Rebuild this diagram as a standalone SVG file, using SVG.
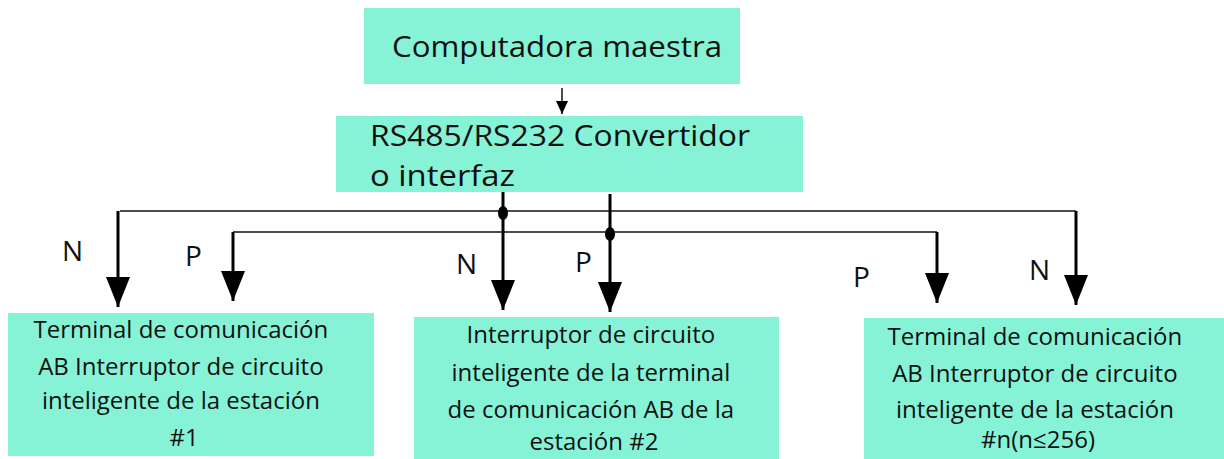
<svg xmlns="http://www.w3.org/2000/svg" width="1224" height="459" viewBox="0 0 1224 459">
<style>
.box{fill:#86f3d6;stroke:none}
.t{font-family:"Open Sans","Noto Sans",sans-serif;fill:#111}
.big{font-size:30px}
.mid{font-size:24px}
.lbl{font-size:28px}
.thin{stroke:#111;stroke-width:1.5;fill:none}
.thick{stroke:#000;stroke-width:3;fill:none}
</style>
<defs>
<marker id="big" markerUnits="userSpaceOnUse" markerWidth="32" markerHeight="24" refX="30" refY="12" orient="auto" viewBox="0 0 32 24">
<path d="M0,0 L30,12 L0,24 Z" fill="#000"/>
</marker>
<marker id="sm" markerUnits="userSpaceOnUse" markerWidth="14" markerHeight="14" refX="13" refY="6" orient="auto" viewBox="0 0 14 12">
<path d="M0,0 L13,6 L0,12 Z" fill="#000"/>
</marker>
</defs>
<rect width="1224" height="459" fill="#fff"/>
<g id="master">
<rect class="box" x="364" y="8" width="376" height="76"/>
<text class="t big" x="557" y="57" text-anchor="middle" textLength="330" lengthAdjust="spacingAndGlyphs">Computadora maestra</text>
</g>
<g id="converter">
<rect class="box" x="336" y="116" width="467" height="76"/>
<text class="t big" x="370" y="146" textLength="380" lengthAdjust="spacingAndGlyphs">RS485/RS232 Convertidor</text>
<text class="t big" x="370" y="186" textLength="145" lengthAdjust="spacingAndGlyphs">o interfaz</text>
</g>
<g id="station1">
<rect class="box" x="8" y="313" width="366" height="143"/>
<text class="t mid" text-anchor="middle" x="184">
<tspan x="184" y="338">Terminal de comunicación</tspan>
<tspan x="184" y="375">AB Interruptor de circuito</tspan>
<tspan x="184" y="409">inteligente de la estación</tspan>
<tspan x="184" y="446">#1</tspan>
</text>
</g>
<g id="station2">
<rect class="box" x="414" y="317" width="365" height="142"/>
<text class="t mid" text-anchor="middle" x="594">
<tspan x="594" y="343">Interruptor de circuito</tspan>
<tspan x="594" y="381">inteligente de la terminal</tspan>
<tspan x="594" y="418">de comunicación AB de la</tspan>
<tspan x="594" y="450">estación #2</tspan>
</text>
</g>
<g id="stationN">
<rect class="box" x="864" y="318" width="360" height="141"/>
<text class="t mid" text-anchor="middle" x="1038">
<tspan x="1038" y="345">Terminal de comunicación</tspan>
<tspan x="1038" y="382">AB Interruptor de circuito</tspan>
<tspan x="1038" y="418">inteligente de la estación</tspan>
<tspan x="1038" y="448">#n(n≤256)</tspan>
</text>
</g>
<g id="connectors">
<line class="thin" x1="562" y1="88" x2="562" y2="114" marker-end="url(#sm)"/>
<polyline class="thin" points="120,211 1076,211"/>
<polyline class="thin" points="233,232 937,232"/>
<line class="thick" x1="118" y1="211" x2="118" y2="307" marker-end="url(#big)"/>
<line class="thick" x1="233" y1="232" x2="233" y2="301" marker-end="url(#big)"/>
<line class="thick" x1="503" y1="192" x2="503" y2="310" marker-end="url(#big)"/>
<line class="thick" x1="610" y1="194" x2="610" y2="312" marker-end="url(#big)"/>
<line class="thick" x1="937" y1="232" x2="937" y2="303" marker-end="url(#big)"/>
<line class="thick" x1="1076" y1="211" x2="1076" y2="305" marker-end="url(#big)"/>
<ellipse cx="503" cy="213" rx="5" ry="7" fill="#000"/>
<ellipse cx="610" cy="234" rx="5" ry="7" fill="#000"/>
</g>
<g id="labels">
<text class="t lbl" x="62" y="261">N</text>
<text class="t lbl" x="185" y="266">P</text>
<text class="t lbl" x="456" y="274">N</text>
<text class="t lbl" x="575" y="272">P</text>
<text class="t lbl" x="853" y="287">P</text>
<text class="t lbl" x="1029" y="280">N</text>
</g>
</svg>
